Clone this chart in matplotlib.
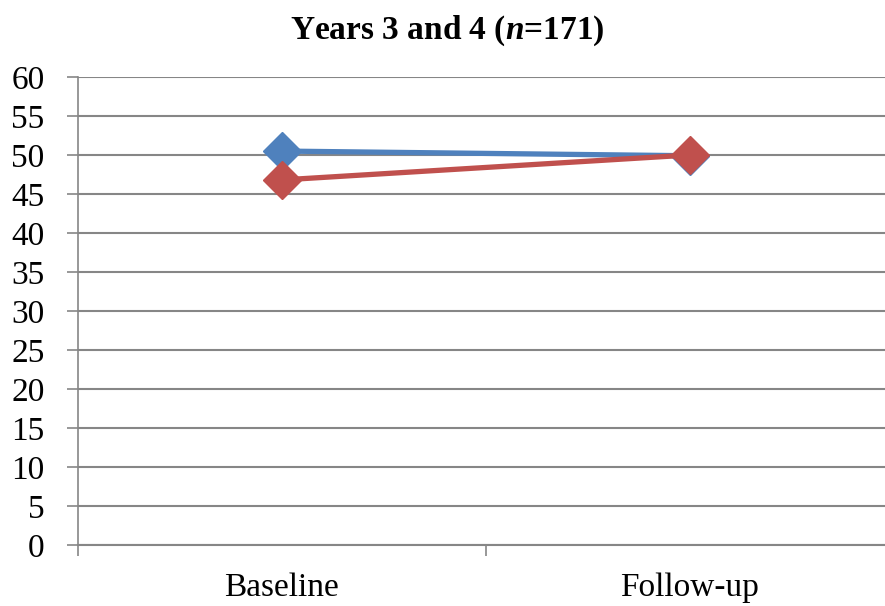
import matplotlib.pyplot as plt
from matplotlib.ticker import FixedLocator, NullFormatter

categories = ['Baseline', 'Follow-up']
series_blue = [50.5, 49.9]
series_red = [46.8, 50.0]
y_ticks = list(range(0, 61, 5))

plt.rcParams['font.family'] = ['DejaVu Serif Condensed', 'Liberation Serif', 'DejaVu Serif']
plt.rcParams['mathtext.fontset'] = 'custom'
plt.rcParams['mathtext.bfit'] = 'Liberation Serif:italic:bold'
plt.rcParams['mathtext.it'] = 'Liberation Serif:italic'
plt.rcParams['mathtext.rm'] = 'Liberation Serif'

fig = plt.figure(figsize=(8.85, 6.06), dpi=100)
ax = fig.add_axes([0.088, 0.1007, 0.922, 0.7723])

x = list(range(len(categories)))
ax.plot(x, series_blue, color='#4F81BD', lw=3.8, marker='D', ms=19,
        solid_capstyle='butt', zorder=3, clip_on=False)
ax.plot(x, series_red, color='#C0504D', lw=3.8, marker='D', ms=19,
        solid_capstyle='butt', zorder=4, clip_on=False)

ax.set_xlim(-0.5, 1.5)
ax.set_ylim(0, 60)
ax.set_yticks(y_ticks)
ax.set_yticklabels([str(v) for v in y_ticks], fontsize=24)
ax.yaxis.grid(True, color='#868686', lw=1.5)
ax.set_axisbelow(True)

ax.xaxis.set_major_locator(FixedLocator(x))
ax.set_xticklabels(categories, fontsize=24)
ax.xaxis.set_minor_locator(FixedLocator([-0.5, 0.5, 1.5]))
ax.xaxis.set_minor_formatter(NullFormatter())
ax.tick_params(axis='x', which='major', length=0, pad=20)
ax.tick_params(axis='x', which='minor', length=8, color='#868686', width=1.2, direction='out')
ax.tick_params(axis='y', length=8, color='#868686', width=1.2, pad=16)

for s in ['top', 'right']:
    ax.spines[s].set_visible(False)
ax.spines['left'].set_color('#868686')
ax.spines['left'].set_linewidth(1.2)
ax.spines['bottom'].set_color('#868686')
ax.spines['bottom'].set_linewidth(1.5)

fig.text(0.505, 0.95, 'Years 3 and 4 ($\\bfit{n}$=171)', ha='center', va='center',
         fontsize=24, fontweight='bold')

fig.savefig('out.png', dpi=100)
